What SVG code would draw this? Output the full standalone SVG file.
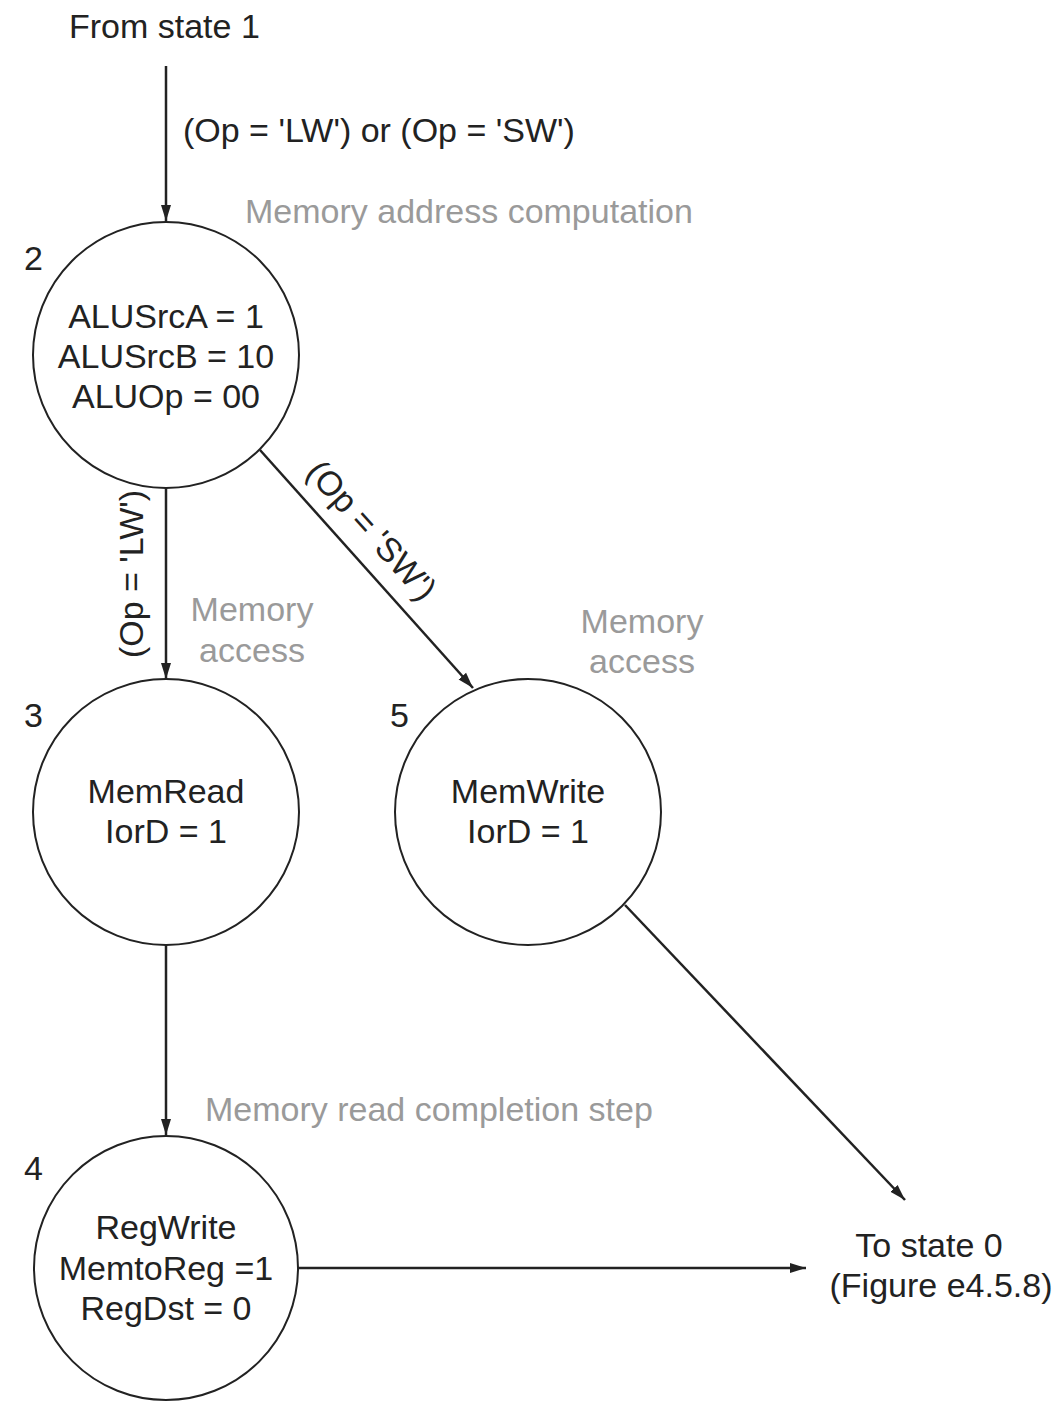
<svg xmlns="http://www.w3.org/2000/svg" width="1063" height="1404" viewBox="0 0 1063 1404">
<style>
text{font-family:"Liberation Sans",Arial,sans-serif;font-size:34px;fill:#222}
.g{fill:#9a9a9a}
.m{text-anchor:middle}
.st{fill:#fff;stroke:#222;stroke-width:2}
.c{stroke:#222;stroke-width:2.5;fill:none;marker-end:url(#ah)}
</style>
<defs>
<marker id="ah" markerUnits="userSpaceOnUse" markerWidth="18" markerHeight="12" refX="16" refY="6" orient="auto">
<path d="M0,1 L16,6 L0,11 Z" fill="#222"/>
</marker>
</defs>
<rect width="1063" height="1404" fill="#fff"/>
<g id="connectors">
<line class="c" x1="166" y1="66" x2="166" y2="221"/>
<line class="c" x1="166" y1="488" x2="166" y2="679"/>
<line class="c" x1="260" y1="450" x2="473" y2="688"/>
<line class="c" x1="166" y1="945" x2="166" y2="1135"/>
<line class="c" x1="625" y1="905" x2="905" y2="1200"/>
<line class="c" x1="298" y1="1268" x2="806" y2="1268"/>
<text x="183" y="142">(Op = 'LW') or (Op = 'SW')</text>
<text x="131" y="586" class="m" transform="rotate(-90 131 574)">(Op = 'LW')</text>
<text x="372" y="542" class="m" transform="rotate(48 372 530)">(Op = 'SW')</text>
</g>
<g id="start">
<text x="69" y="38">From state 1</text>
</g>
<g id="state2">
<circle class="st" cx="166" cy="355" r="133"/>
<text x="24" y="270">2</text>
<text x="166" y="328" class="m">ALUSrcA = 1</text>
<text x="166" y="368" class="m">ALUSrcB = 10</text>
<text x="166" y="408" class="m">ALUOp = 00</text>
<text x="245" y="223" class="g">Memory address computation</text>
</g>
<g id="state3">
<circle class="st" cx="166" cy="812" r="133"/>
<text x="24" y="727">3</text>
<text x="166" y="803" class="m">MemRead</text>
<text x="166" y="843" class="m">IorD = 1</text>
<text x="252" y="621" class="g m">Memory</text>
<text x="252" y="662" class="g m">access</text>
</g>
<g id="state5">
<circle class="st" cx="528" cy="812" r="133"/>
<text x="390" y="727">5</text>
<text x="528" y="803" class="m">MemWrite</text>
<text x="528" y="843" class="m">IorD = 1</text>
<text x="642" y="633" class="g m">Memory</text>
<text x="642" y="673" class="g m">access</text>
</g>
<g id="state4">
<circle class="st" cx="166" cy="1268" r="132"/>
<text x="24" y="1180">4</text>
<text x="166" y="1239" class="m">RegWrite</text>
<text x="166" y="1280" class="m">MemtoReg =1</text>
<text x="166" y="1320" class="m">RegDst = 0</text>
<text x="205" y="1121" class="g">Memory read completion step</text>
</g>
<g id="end">
<text x="929" y="1257" class="m">To state 0</text>
<text x="941" y="1297" class="m">(Figure e4.5.8)</text>
</g>
</svg>
